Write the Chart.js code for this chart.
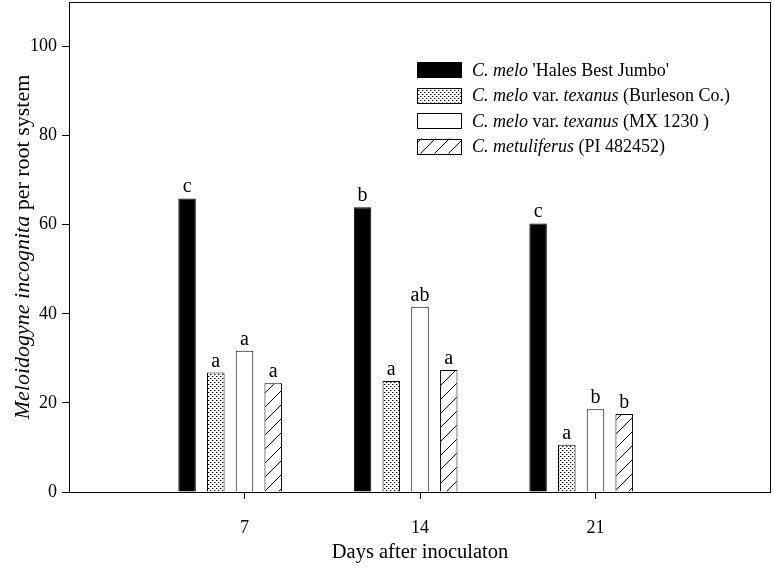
<!DOCTYPE html>
<html>
<head>
<meta charset="utf-8">
<script src="https://cdn.jsdelivr.net/npm/chart.js@4/dist/chart.umd.min.js"></script>
<style>
  html, body { margin: 0; padding: 0; background: #fff; }
  #c { display: block; }
</style>
</head>
<body>
<canvas id="c" width="774" height="569"></canvas>
<script>
// ---- data ----
const categories = ['0', '7', '14', '21', '28'];
const hbjValues = [null, 65.9, 63.9, 60.3, null];
const burlesonValues = [null, 26.8, 24.9, 10.6, null];
const mx1230Values = [null, 31.7, 41.6, 18.6, null];
const metuliferusValues = [null, 24.4, 27.4, 17.5, null];

const hbjLetters = ['', 'c', 'b', 'c', ''];
const burlesonLetters = ['', 'a', 'a', 'a', ''];
const mx1230Letters = ['', 'a', 'ab', 'b', ''];
const metuliferusLetters = ['', 'a', 'a', 'b', ''];

const yTickValues = [0, 20, 40, 60, 80, 100];

// legend names as [text, italic] segments
const hbjName = [['C. melo', true], [" 'Hales Best Jumbo'", false]];
const burlesonName = [['C. melo', true], [' var. ', false], ['texanus', true], [' (Burleson Co.)', false]];
const mx1230Name = [['C. melo', true], [' var. ', false], ['texanus', true], [' (MX 1230 )', false]];
const metuliferusName = [['C. metuliferus', true], [' (PI 482452)', false]];

const yTitle = [['Meloidogyne incognita', true], [' per root system', false]];
const xTitle = 'Days after inoculaton';

// ---- patterns ----
const SERIF = "'Liberation Serif', 'Times New Roman', serif";
function dotPattern() {
  const c = document.createElement('canvas'); c.width = 4; c.height = 4;
  const g = c.getContext('2d');
  g.fillStyle = '#fff'; g.fillRect(0, 0, 4, 4);
  g.fillStyle = '#000';
  g.fillRect(0, 0, 1, 1); g.fillRect(2, 2, 1, 1);
  g.fillStyle = 'rgba(0,0,0,0.35)';
  g.fillRect(1, 0, 1, 1); g.fillRect(3, 2, 1, 1);
  return g.createPattern(c, 'repeat');
}
function hatchPattern() {
  const s = 14;
  const c = document.createElement('canvas'); c.width = s; c.height = s;
  const g = c.getContext('2d');
  g.fillStyle = '#fff'; g.fillRect(0, 0, s, s);
  g.strokeStyle = '#000'; g.lineWidth = 1;
  g.beginPath();
  g.moveTo(-2, s + 2); g.lineTo(s + 2, -2);
  g.moveTo(-2, 2); g.lineTo(2, -2);
  g.moveTo(s - 2, s + 2); g.lineTo(s + 2, s - 2);
  g.stroke();
  return g.createPattern(c, 'repeat');
}
const dots = dotPattern();
const hatch = hatchPattern();

const seriesStyles = [
  { fill: '#000', name: hbjName, letters: hbjLetters },
  { fill: dots, name: burlesonName, letters: burlesonLetters },
  { fill: '#fff', name: mx1230Name, letters: mx1230Letters },
  { fill: hatch, name: metuliferusName, letters: metuliferusLetters }
];

function drawSegments(ctx, segs, x, y, size, align) {
  let total = 0;
  segs.forEach(([t, it]) => {
    ctx.font = (it ? 'italic ' : '') + size + 'px ' + SERIF;
    total += ctx.measureText(t).width;
  });
  let cx = align === 'center' ? x - total / 2 : x;
  ctx.textAlign = 'left';
  segs.forEach(([t, it]) => {
    ctx.font = (it ? 'italic ' : '') + size + 'px ' + SERIF;
    ctx.fillText(t, cx, y);
    cx += ctx.measureText(t).width;
  });
}

const decor = {
  id: 'decor',
  afterDatasetsDraw(chart) {
    const ctx = chart.ctx;
    const a = chart.chartArea;
    ctx.save();
    // frame
    ctx.strokeStyle = '#000'; ctx.lineWidth = 1;
    ctx.strokeRect(Math.round(a.left) + 0.5, Math.round(a.top) + 0.5,
      Math.round(a.right - a.left) - 1, Math.round(a.bottom - a.top));
    // letters above bars
    ctx.fillStyle = '#000';
    ctx.font = '20px ' + SERIF;
    ctx.textAlign = 'center'; ctx.textBaseline = 'alphabetic';
    seriesStyles.forEach((s, di) => {
      const meta = chart.getDatasetMeta(di);
      meta.data.forEach((el, j) => {
        const L = s.letters[j];
        if (!L || chart.data.datasets[di].data[j] == null) return;
        ctx.fillText(L, el.x, el.y - 6);
      });
    });
    // legend
    const lx = 417, lw = 44, lh = 15, tx = 472;
    const rows = [69.5, 95, 120.5, 146];
    seriesStyles.forEach((s, i) => {
      const cy = rows[i];
      ctx.fillStyle = s.fill;
      ctx.fillRect(lx, cy - lh / 2, lw, lh);
      ctx.strokeStyle = '#000'; ctx.lineWidth = 1;
      ctx.strokeRect(lx + 0.5, Math.round(cy - lh / 2) + 0.5, lw, lh);
      ctx.fillStyle = '#000';
      drawSegments(ctx, s.name, tx, cy + 6, 18, 'left');
    });
    // axis titles
    ctx.fillStyle = '#000';
    ctx.textAlign = 'center';
    ctx.font = '20.5px ' + SERIF;
    ctx.fillText(xTitle, (a.left + a.right) / 2, 558);
    ctx.save();
    ctx.translate(29, (a.top + a.bottom) / 2);
    ctx.rotate(-Math.PI / 2);
    drawSegments(ctx, yTitle, 0, 0, 22, 'center');
    ctx.restore();
    ctx.restore();
  }
};

const datasets = seriesStyles.map((s, i) => ({
  label: 'series' + i,
  data: [hbjValues, burlesonValues, mx1230Values, metuliferusValues][i],
  backgroundColor: s.fill,
  borderColor: '#000',
  borderWidth: 1,
  borderSkipped: 'bottom',
  categoryPercentage: 0.818,
  barPercentage: 0.61
}));
// spacer series so the group sits like the original (third bar on tick)
datasets.push({ label: '', data: [null, null, null, null, null], backgroundColor: 'rgba(0,0,0,0)',
  categoryPercentage: 0.818, barPercentage: 0.61 });

function noPad(s) { s.paddingTop = 0; s.paddingBottom = 0; s.paddingLeft = 0; s.paddingRight = 0; }

new Chart(document.getElementById('c'), {
  type: 'bar',
  data: { labels: categories, datasets },
  options: {
    responsive: false,
    animation: false,
    devicePixelRatio: 1,
    layout: { padding: { top: 2, right: 3, left: 0, bottom: 0 } },
    plugins: { legend: { display: false }, tooltip: { enabled: false } },
    scales: {
      x: {
        type: 'category',
        offset: false,
        grid: {
          offset: false,
          drawOnChartArea: false, drawTicks: true, tickLength: 7,
          color: (c) => (c.index === 0 || c.index === categories.length - 1) ? 'rgba(0,0,0,0)' : '#000'
        },
        border: { display: false },
        ticks: {
          color: '#000', font: { family: SERIF, size: 18 }, padding: 18,
          maxRotation: 0, autoSkip: false,
          callback: (v, i) => (i === 0 || i === categories.length - 1) ? '' : categories[i]
        },
        afterFit: (s) => { s.height = 77; noPad(s); }
      },
      y: {
        min: 0, max: 110,
        grid: { drawOnChartArea: false, drawTicks: true, tickLength: 7, color: '#000' },
        border: { display: false },
        ticks: { color: '#000', font: { family: SERIF, size: 18 }, padding: 5 },
        afterBuildTicks: (s) => { s.ticks = yTickValues.map(v => ({ value: v })); },
        afterFit: (s) => { s.width = 69; noPad(s); }
      }
    }
  },
  plugins: [decor]
});
</script>
</body>
</html>
